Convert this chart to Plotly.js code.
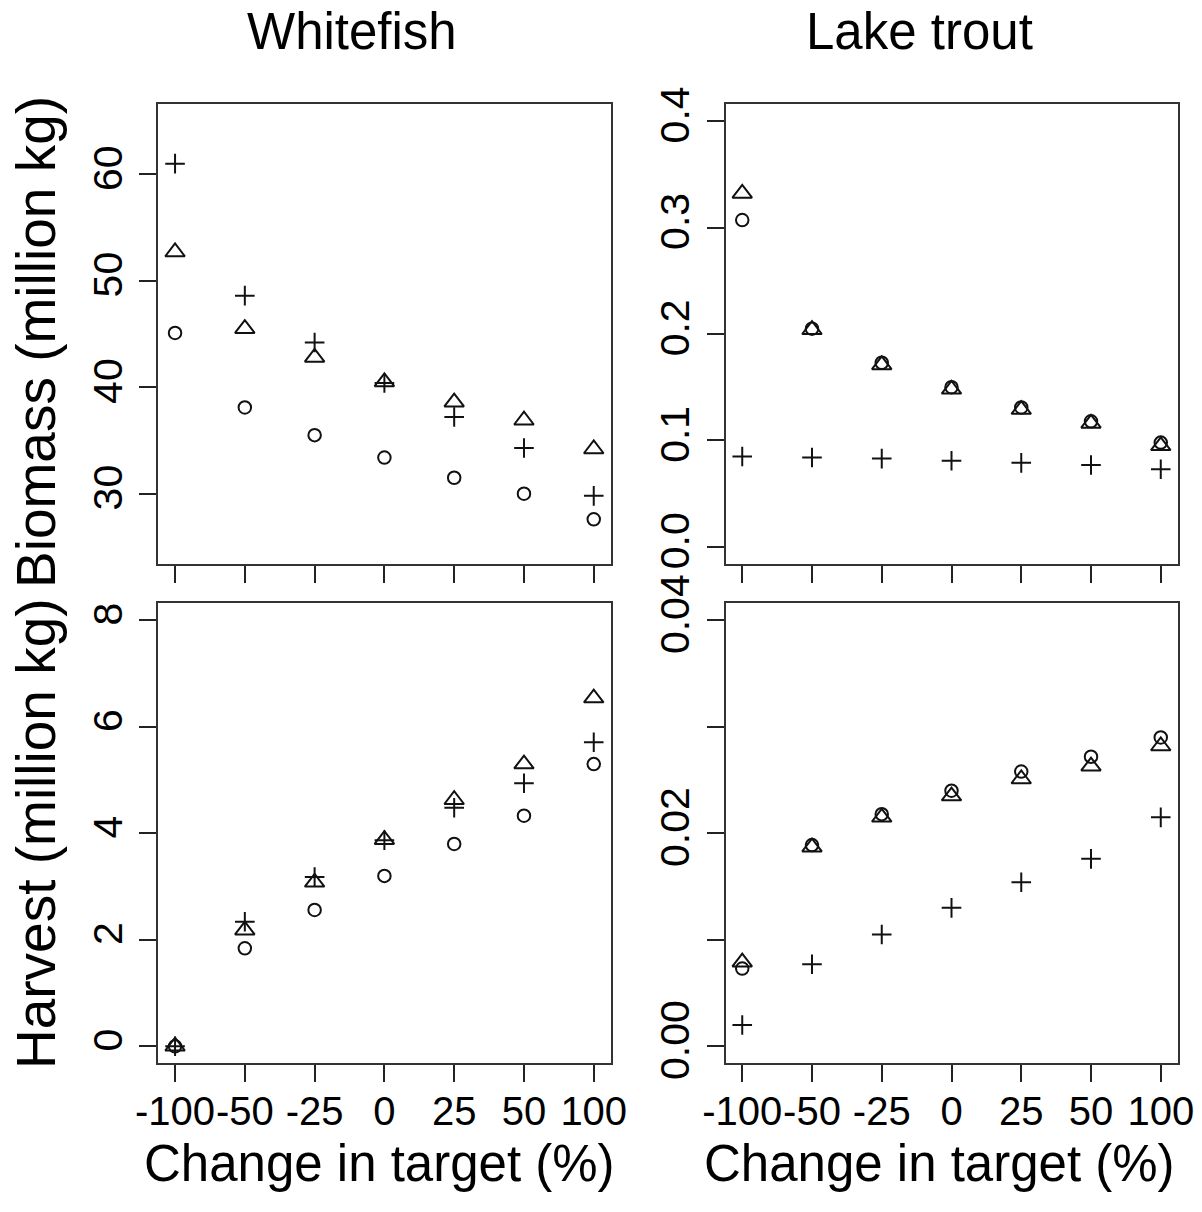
<!DOCTYPE html>
<html>
<head>
<meta charset="utf-8">
<script src="https://cdn.plot.ly/plotly-3.0.1.min.js"></script>
<style>
  html, body { margin: 0; padding: 0; background: #fff; }
  #chart { width: 1202px; height: 1212px; }
</style>
</head>
<body>
<div id="chart"></div>
<script>
// Change in management target (%), shown as evenly spaced categories
const changes = ['-100', '-50', '-25', '0', '25', '50', '100'];

// Whitefish biomass (million kg)
const wfBiomassCircle = [45.1, 38.1, 35.5, 33.4, 31.5, 30.0, 27.6];
const wfBiomassTriangle = [52.7, 45.5, 42.8, 40.5, 38.6, 36.9, 34.2];
const wfBiomassCross = [61.0, 48.6, 44.2, 40.4, 37.2, 34.3, 29.8];

// Lake trout biomass (million kg)
const ltBiomassCircle = [0.307, 0.205, 0.173, 0.150, 0.131, 0.118, 0.098];
const ltBiomassTriangle = [0.332, 0.204, 0.171, 0.148, 0.129, 0.116, 0.095];
const ltBiomassCross = [0.085, 0.084, 0.083, 0.081, 0.079, 0.077, 0.073];

// Whitefish harvest (million kg)
const wfHarvestCircle = [0.0, 1.84, 2.56, 3.20, 3.80, 4.33, 5.30];
const wfHarvestTriangle = [0.0, 2.18, 3.08, 3.88, 4.63, 5.30, 6.54];
const wfHarvestCross = [0.0, 2.34, 3.18, 3.87, 4.48, 4.94, 5.71];

// Lake trout harvest (million kg)
const ltHarvestCircle = [0.0073, 0.0189, 0.0218, 0.0240, 0.0258, 0.0272, 0.0290];
const ltHarvestTriangle = [0.0079, 0.0187, 0.0215, 0.0235, 0.0251, 0.0263, 0.0282];
const ltHarvestCross = [0.0020, 0.0077, 0.0105, 0.0130, 0.0154, 0.0176, 0.0215];

// Y tick values and labels per panel
const wfBiomassTicks = [30, 40, 50, 60];
const wfBiomassTickText = ['30', '40', '50', '60'];
const ltBiomassTicks = [0, 0.1, 0.2, 0.3, 0.4];
const ltBiomassTickText = ['0.0', '0.1', '0.2', '0.3', '0.4'];
const wfHarvestTicks = [0, 2, 4, 6, 8];
const wfHarvestTickText = ['0', '2', '4', '6', '8'];
const ltHarvestTicks = [0, 0.01, 0.02, 0.03, 0.04];
const ltHarvestTickText = ['0.00', '', '0.02', '', '0.04'];

const FONT = 'Liberation Sans, Arial, Helvetica, sans-serif';
const INK = '#111';

function symbolTraces(xa, ya, circle, triangle, cross) {
  const base = { x: changes, type: 'scatter', mode: 'markers', xaxis: xa, yaxis: ya,
                 showlegend: false, hoverinfo: 'x+y' };
  return [
    Object.assign({}, base, { y: circle,
      marker: { symbol: 'circle-open', size: 12.5, color: INK, line: { color: INK, width: 2 } } }),
    Object.assign({}, base, { y: triangle,
      marker: { symbol: 'triangle-up-open', size: 17, color: INK, line: { color: INK, width: 2 } } }),
    Object.assign({}, base, { y: cross,
      marker: { symbol: 'cross-thin-open', size: 14, color: INK, line: { color: INK, width: 2 } } })
  ];
}

const data = [].concat(
  symbolTraces('x', 'y', wfBiomassCircle, wfBiomassTriangle, wfBiomassCross),
  symbolTraces('x2', 'y2', ltBiomassCircle, ltBiomassTriangle, ltBiomassCross),
  symbolTraces('x3', 'y3', wfHarvestCircle, wfHarvestTriangle, wfHarvestCross),
  symbolTraces('x4', 'y4', ltHarvestCircle, ltHarvestTriangle, ltHarvestCross)
);

const W = 1202, H = 1212;
const colLeft = [158.3 / W, 610.5 / W];
const colRight = [725.5 / W, 1177.5 / W];
const rowTop = [1 - 564 / H, 1 - 104 / H];
const rowBottom = [1 - 1063.3 / H, 1 - 603.3 / H];

function xAxis(domain, anchor, labels) {
  return {
    domain: domain, anchor: anchor, type: 'category',
    categoryorder: 'array', categoryarray: changes,
    range: [-0.24, 6.24], fixedrange: true,
    showgrid: false, zeroline: false,
    showline: true, linecolor: '#333', linewidth: 2, mirror: true,
    ticks: 'outside', ticklen: 17, tickwidth: 2, tickcolor: '#222',
    showticklabels: labels, tickangle: 0, ticklabelstandoff: -5,
    tickfont: { family: FONT, size: 40, color: '#000' }
  };
}
function yAxis(domain, anchor, range, vals, text) {
  return {
    domain: domain, anchor: anchor, range: range, fixedrange: true,
    showgrid: false, zeroline: false,
    showline: true, linecolor: '#333', linewidth: 2, mirror: true,
    ticks: 'outside', ticklen: 17, tickwidth: 2, tickcolor: '#222',
    tickmode: 'array', tickvals: vals, ticktext: text, tickangle: -90,
    ticklabelstandoff: 1,
    tickfont: { family: FONT, size: 41, color: '#000' }
  };
}

function label(text, xPx, yPx, size, angle) {
  return {
    text: text, xref: 'paper', yref: 'paper', x: xPx / W, y: 1 - yPx / H,
    xanchor: 'center', yanchor: 'middle', showarrow: false, textangle: angle || 0,
    font: { family: FONT, size: size, color: '#000' }
  };
}

const layout = {
  width: W, height: H,
  margin: { l: 0, r: 0, t: 0, b: 0 },
  paper_bgcolor: '#fff', plot_bgcolor: '#fff',
  showlegend: false,
  xaxis: xAxis(colLeft, 'y', false),
  yaxis: yAxis(rowTop, 'x', [23.4, 66.6], wfBiomassTicks, wfBiomassTickText),
  xaxis2: xAxis(colRight, 'y2', false),
  yaxis2: yAxis(rowTop, 'x2', [-0.016, 0.416], ltBiomassTicks, ltBiomassTickText),
  xaxis3: xAxis(colLeft, 'y3', true),
  yaxis3: yAxis(rowBottom, 'x3', [-0.32, 8.32], wfHarvestTicks, wfHarvestTickText),
  xaxis4: xAxis(colRight, 'y4', true),
  yaxis4: yAxis(rowBottom, 'x4', [-0.0016, 0.0416], ltHarvestTicks, ltHarvestTickText),
  annotations: [
    label('Whitefish', 352, 32, 51),
    label('Lake trout', 919, 32, 51),
    label('Biomass (million kg)', 36, 342, 55, -90),
    label('Harvest (million kg)', 36, 834, 55, -90),
    label('Change in target (%)', 379, 1163, 51),
    label('Change in target (%)', 939, 1163, 51)
  ]
};

Plotly.newPlot('chart', data, layout, { displayModeBar: false, staticPlot: true });
</script>
</body>
</html>
